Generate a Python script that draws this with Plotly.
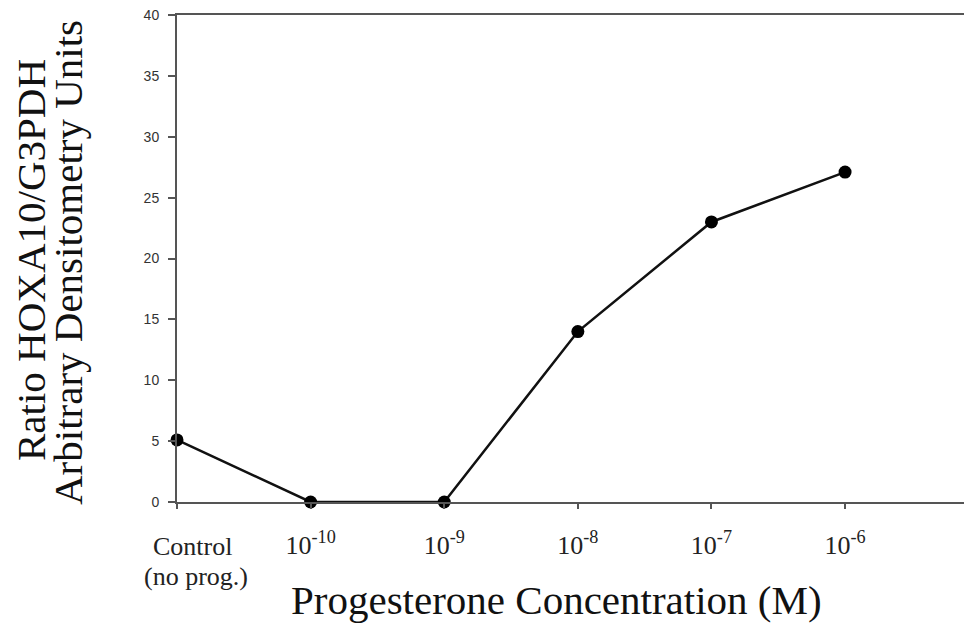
import plotly.graph_objects as go

categories = ["Control", "1e-10", "1e-9", "1e-8", "1e-7", "1e-6"]
values = [5.1, 0.0, 0.0, 14.0, 23.0, 27.1]
tick_labels = ["", "10<sup>-10</sup>", "10<sup>-9</sup>", "10<sup>-8</sup>", "10<sup>-7</sup>", "10<sup>-6</sup>"]
y_ticks = [0, 5, 10, 15, 20, 25, 30, 35, 40]

xpos = list(range(len(categories)))

serif = "Liberation Serif, Times New Roman, serif"
sans = "Liberation Sans, Arial, sans-serif"

fig = go.Figure()
fig.add_trace(go.Scatter(
    x=xpos, y=values, mode="lines+markers",
    line=dict(color="#111111", width=2.5),
    marker=dict(color="#000000", size=13),
    cliponaxis=False, showlegend=False,
))

# page has an 8px body margin, so the figure is 8px smaller and shifted
fig.update_layout(
    width=964, height=617,
    margin=dict(l=169, r=0, t=7, b=123),
    paper_bgcolor="white", plot_bgcolor="white",
    xaxis=dict(
        range=[0, 5.95], tickvals=xpos, ticktext=tick_labels,
        showgrid=False, zeroline=False,
        showline=True, linecolor="#555555", linewidth=2, mirror=True,
        ticks="outside", ticklen=5, tickcolor="#555555", tickwidth=1.5,
        tickfont=dict(family=serif, size=26, color="#222222"),
        ticklabelstandoff=14,
    ),
    yaxis=dict(
        range=[0, 40], tickvals=y_ticks,
        showgrid=False, zeroline=False,
        showline=True, linecolor="#555555", linewidth=2,
        ticks="outside", ticklen=7, tickcolor="#555555", tickwidth=1.5,
        tickfont=dict(family=sans, size=14, color="#333333"),
        ticklabelstandoff=6, ticklabeloverflow="allow",
    ),
)

def px(xs):
    return (xs - 177) / 795

def py(ys):
    return (502 - ys) / 487

ann = []
ann.append(dict(text="Control", x=0, y=py(546), xref="x", yref="paper",
                xanchor="center", yanchor="middle",
                xshift=15, showarrow=False, font=dict(family=serif, size=26, color="#222222")))
ann.append(dict(text="(no prog.)", x=0, y=py(576), xref="x", yref="paper",
                xanchor="center", yanchor="middle",
                xshift=19, showarrow=False, font=dict(family=serif, size=26, color="#222222")))
ann.append(dict(text="Progesterone Concentration (M)", x=px(556), y=py(600),
                xref="paper", yref="paper", showarrow=False,
                xanchor="center", yanchor="middle",
                font=dict(family=serif, size=41, color="#111111")))
ann.append(dict(text="Ratio HOXA10/G3PDH", x=px(31), y=py(260),
                xref="paper", yref="paper", showarrow=False, textangle=-90,
                xanchor="center", yanchor="middle",
                font=dict(family=serif, size=41, color="#111111")))
ann.append(dict(text="Arbitrary Densitometry Units", x=px(68), y=py(263),
                xref="paper", yref="paper", showarrow=False, textangle=-90,
                xanchor="center", yanchor="middle",
                font=dict(family=serif, size=41, color="#111111")))
fig.update_layout(annotations=ann)

fig.write_html("out.html")
